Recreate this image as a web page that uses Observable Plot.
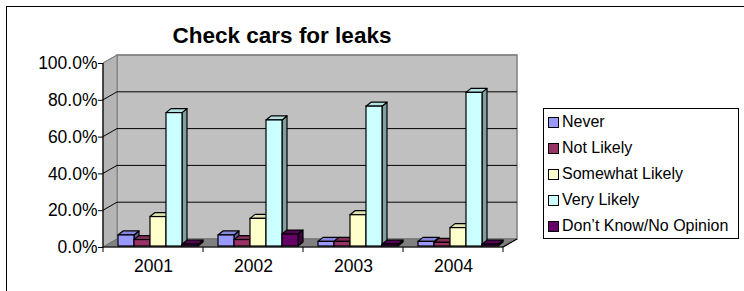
<!DOCTYPE html>
<html><head><meta charset="utf-8">
<script src="https://cdn.jsdelivr.net/npm/d3@7"></script>
<script src="https://cdn.jsdelivr.net/npm/@observablehq/plot@0.6"></script>
<style>
html,body{margin:0;padding:0;background:#fff;overflow:hidden}
#chart{position:relative;width:744px;height:291px;font-family:"Liberation Sans",Arial,sans-serif;overflow:hidden;background:#fff}
#border{position:absolute;left:6px;top:6px;width:760px;height:320px;border:1px solid #000;box-sizing:border-box}
#title{position:absolute;left:0;width:564px;top:23px;line-height:26px;text-align:center;font-weight:bold;font-size:22.5px;color:#000}
#legend{position:absolute;left:543px;top:108px;width:196px;height:131px;border:1px solid #000;box-sizing:border-box;background:#fff}
.item{display:flex;align-items:center;height:26px;font-size:16px;color:#000;white-space:nowrap}
.sw{width:9px;height:9px;border:1.5px solid #000;margin-left:4px;margin-right:3px;flex:none}
#chart svg{position:absolute;left:0;top:0}
</style></head>
<body>
<div id="chart">
  <div id="border"></div>
  <div id="title">Check cars for leaks</div>
  <div id="legend"></div>
</div>
<script>
const years = ["2001", "2002", "2003", "2004"];
const categories = ["Never", "Not Likely", "Somewhat Likely", "Very Likely", "Don’t Know/No Opinion"];
const never = [6, 6, 2.5, 2.5];
const notLikely = [3.5, 3.5, 2.5, 2];
const somewhatLikely = [16, 15, 17, 10];
const veryLikely = [72.5, 68.5, 76, 83.5];
const dontKnow = [1, 6.5, 1, 1];
const yTicks = [0, 20, 40, 60, 80, 100];
const colors = ["#9999FF", "#993366", "#FFFFCC", "#CCFFFF", "#660066"];

const seriesValues = [never, notLikely, somewhatLikely, veryLikely, dontKnow];
const table = years.flatMap((yr, i) => categories.map((c, j) => ({year: yr, category: c, value: seriesValues[j][i]})));

const plot = Plot.plot({
  width: 744, height: 291,
  marginLeft: 103, marginRight: 241, marginTop: 63, marginBottom: 44,
  style: {background: "transparent", fontFamily: "Liberation Sans, Arial, sans-serif", fontSize: "17.5px", color: "#000", overflow: "visible"},
  facet: {data: table, x: "year"},
  fx: {domain: years, padding: 0, label: null, axis: "bottom", tickSize: 0, tickPadding: 12},
  x: {domain: categories, axis: null, paddingInner: 0, paddingOuter: 0.625, align: 0.75},
  y: {domain: [0, 100], ticks: yTicks, tickFormat: d => d.toFixed(1) + "%", label: null, tickSize: 5, tickPadding: 1},
  color: {domain: categories, range: colors},
  marks: [
    Plot.barY(table, {x: "category", y: "value", fill: "category", stroke: "#000", strokeWidth: 1.2, dy: -1})
  ]
});
document.getElementById("chart").appendChild(plot);

// 3D decoration derived from Plot's scales
const svg = d3.select(plot);
const ys = plot.scale("y");
const y = d3.scaleLinear(ys.domain, ys.range);
let fxs = plot.scale("fx");
const fxRange = fxs && fxs.range ? fxs.range : [103, 503];
const fx = d3.scaleBand(years, fxRange).padding(0);
const L = fxRange[0], R = fxRange[1];
const DX = 14, DY = -8;
const y0 = y(0), y100 = y(100);

const deco = svg.insert("g", ":first-child").attr("aria-label", "walls");
deco.append("rect").attr("x", L + DX).attr("y", y100 + DY).attr("width", R - L).attr("height", y0 - y100)
  .attr("fill", "#c0c0c0").attr("stroke", "#808080").attr("stroke-width", 1.5);
deco.append("polygon").attr("points", [[L, y100], [L + DX, y100 + DY], [L + DX, y0 + DY], [L, y0]].join(" "))
  .attr("fill", "#b4b4b4").attr("stroke", "#808080");
deco.append("polygon").attr("points", [[L, y0], [R, y0], [R + DX, y0 + DY], [L + DX, y0 + DY]].join(" "))
  .attr("fill", "#808080").attr("stroke", "#707070");
for (const t of yTicks.slice(1)) {
  const c = t === 100 ? "#808080" : "#000";
  deco.append("line").attr("x1", L + DX).attr("x2", R + DX).attr("y1", y(t) + DY).attr("y2", y(t) + DY).attr("stroke", c);
  deco.append("line").attr("x1", L).attr("x2", L + DX).attr("y1", y(t)).attr("y2", y(t) + DY).attr("stroke", c);
}
deco.append("line").attr("x1", L).attr("x2", L).attr("y1", y100).attr("y2", y0).attr("stroke", "#000").attr("stroke-width", 1.2);
deco.append("line").attr("x1", L).attr("x2", R).attr("y1", y0).attr("y2", y0).attr("stroke", "#000").attr("stroke-width", 1.2);
deco.append("line").attr("x1", R).attr("x2", R + DX).attr("y1", y0).attr("y2", y0 + DY).attr("stroke", "#000").attr("stroke-width", 1.2);
for (const b of [...years.map(d => fx(d)), R]) {
  deco.append("line").attr("x1", b).attr("x2", b).attr("y1", y0).attr("y2", y0 + 5).attr("stroke", "#000");
}

// bar top & side faces
const BDX = 5, BDY = -4;
svg.selectAll('g[aria-label="bar"] rect').each(function() {
  const r = d3.select(this);
  const x = +r.attr("x"), yy = +r.attr("y"), w = +r.attr("width"), h = +r.attr("height");
  const c = d3.color(r.attr("fill"));
  const parent = this.parentNode;
  const ns = "http://www.w3.org/2000/svg";
  const top = document.createElementNS(ns, "polygon");
  top.setAttribute("points", [[x, yy], [x + BDX, yy + BDY], [x + w + BDX, yy + BDY], [x + w, yy]].join(" "));
  top.setAttribute("fill", c.darker(0.35).formatHex());
  const side = document.createElementNS(ns, "polygon");
  side.setAttribute("points", [[x + w, yy], [x + w + BDX, yy + BDY], [x + w + BDX, yy + h + BDY], [x + w, yy + h]].join(" "));
  side.setAttribute("fill", c.darker(1.3).formatHex());
  for (const p of [side, top]) {
    p.setAttribute("stroke", "#000"); p.setAttribute("stroke-width", 1.2); p.setAttribute("stroke-linejoin", "round");
    parent.insertBefore(p, this);
  }
});

// legend
const legend = d3.select("#legend");
categories.forEach((c, i) => {
  const it = legend.append("div").attr("class", "item");
  it.append("div").attr("class", "sw").style("background", colors[i]);
  it.append("span").text(c);
});
</script>
</body></html>
